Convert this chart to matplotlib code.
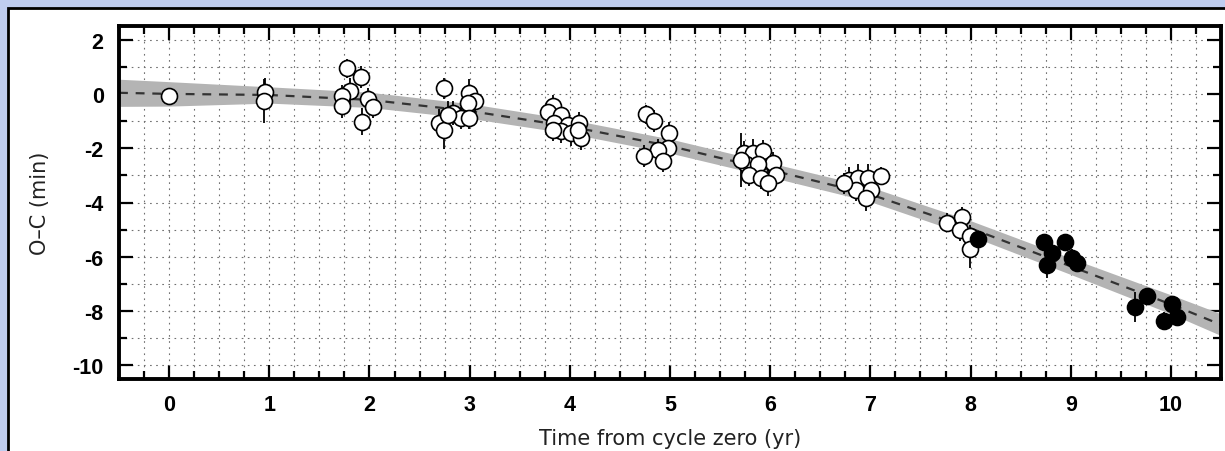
import numpy as np
import matplotlib.pyplot as plt
from matplotlib.patches import Rectangle
from matplotlib.ticker import MultipleLocator

plt.rcParams['font.family'] = ['Liberation Sans', 'DejaVu Sans']
plt.rcParams['axes.unicode_minus'] = False

# open circles (x in yr, O-C in min, error in min)
open_x = [0.0, 0.96, 0.95,
          1.78, 1.92, 1.81, 1.73, 1.73, 1.99, 2.04, 1.93,
          2.74, 2.99, 3.05, 2.98, 2.83, 2.91, 2.99, 2.69, 2.74, 2.78,
          3.83, 3.78, 3.91, 3.84, 3.98, 4.09, 3.91, 4.01, 4.11, 3.83, 4.08,
          4.76, 4.84, 4.99, 4.98, 4.88, 4.74, 4.93,
          5.74, 5.83, 5.93, 6.03, 5.76, 5.88, 6.06, 5.79, 5.91, 5.98, 5.71,
          6.79, 6.88, 6.98, 7.11, 6.86, 7.01, 6.96, 6.74,
          7.76, 7.91, 7.89, 7.99, 7.99]
open_y = [-0.07, 0.07, -0.26,
          0.95, 0.62, 0.10, -0.07, -0.45, -0.20, -0.48, -1.02,
          0.20, 0.03, -0.27, -0.35, -0.70, -0.88, -0.88, -1.07, -1.32, -0.77,
          -0.45, -0.65, -0.77, -1.07, -1.13, -1.07, -1.36, -1.43, -1.62, -1.32, -1.32,
          -0.75, -1.00, -1.43, -1.99, -2.05, -2.28, -2.46,
          -2.17, -2.17, -2.10, -2.54, -2.60, -2.60, -2.98, -2.98, -3.09, -3.27, -2.43,
          -3.16, -3.09, -3.09, -3.01, -3.53, -3.53, -3.82, -3.30,
          -4.74, -4.55, -5.00, -5.22, -5.73]
open_err = [0.15, 0.5, 0.8,
            0.35, 0.4, 0.5, 0.4, 0.45, 0.4, 0.4, 0.5,
            0.4, 0.5, 0.4, 0.4, 0.45, 0.4, 0.4, 0.5, 0.7, 0.5,
            0.4, 0.4, 0.4, 0.4, 0.45, 0.4, 0.45, 0.5, 0.45, 0.4, 0.4,
            0.35, 0.4, 0.4, 0.4, 0.4, 0.4, 0.4,
            0.45, 0.5, 0.4, 0.4, 0.5, 0.4, 0.4, 0.4, 0.4, 0.5, 1.0,
            0.45, 0.5, 0.5, 0.3, 0.4, 0.4, 0.5, 0.4,
            0.35, 0.4, 0.4, 0.4, 0.7]

# filled circles
fill_x = [8.07, 8.73, 8.94, 8.81, 8.76, 9.01, 9.06, 9.76, 9.64, 10.01, 10.06, 9.93]
fill_y = [-5.33, -5.45, -5.45, -5.85, -6.32, -6.03, -6.21, -7.45, -7.85, -7.75, -8.20, -8.35]
fill_err = [0.2, 0.25, 0.3, 0.3, 0.45, 0.3, 0.3, 0.3, 0.55, 0.3, 0.35, 0.3]

# fitted ephemeris and its uncertainty band
fit_x = [-0.5, 0, 1, 2, 3, 4, 5, 6, 7, 8, 9, 10, 10.5]
fit_y = [0.04, 0.0, -0.04, -0.22, -0.63, -1.2, -1.92, -2.8, -3.7, -4.95, -6.35, -7.75, -8.5]
fit_w = [0.5, 0.45, 0.3, 0.28, 0.27, 0.26, 0.26, 0.26, 0.27, 0.28, 0.3, 0.35, 0.4]

fig = plt.figure(figsize=(12.25, 4.52), dpi=100, facecolor='#bfcdf0')
fig.patches.append(Rectangle((8 / 1225, -0.2), 1.2, 1.2 - 9 / 452, transform=fig.transFigure,
                             facecolor='white', edgecolor='black', linewidth=2, zorder=-5))

ax = fig.add_axes([119 / 1225, 1 - 380 / 452, 1102 / 1225, 353 / 452])
ax.set_zorder(2)

fx = np.array(fit_x)
fy = np.array(fit_y)
fw = np.array(fit_w)
ax.fill_between(fx, fy - fw, fy + fw, color='#b4b4b4', linewidth=0, zorder=1)
ax.plot(fx, fy, color='#333333', linestyle=(0, (4, 3.5)), linewidth=1.6, zorder=2)

ax.errorbar(open_x, open_y, yerr=open_err, fmt='o', ms=11.5, mfc='white', mec='black',
            mew=1.2, ecolor='black', elinewidth=1.3, capsize=0, zorder=3)
ax.errorbar(fill_x, fill_y, yerr=fill_err, fmt='o', ms=11.5, mfc='black', mec='black',
            mew=1.2, ecolor='black', elinewidth=1.3, capsize=0, zorder=4)

ax.set_xlim(-0.5, 10.5)
ax.set_ylim(-10.5, 2.5)
ax.xaxis.set_major_locator(MultipleLocator(1))
ax.xaxis.set_minor_locator(MultipleLocator(0.25))
ax.yaxis.set_major_locator(MultipleLocator(2))
ax.yaxis.set_minor_locator(MultipleLocator(1))

ax.grid(which='both', color='#707070', linestyle=(0, (1.5, 4)), linewidth=0.8, zorder=0)
ax.set_axisbelow(True)

ax.tick_params(which='both', direction='in', top=True, right=True, width=1.6)
ax.tick_params(which='major', length=10, labelsize=15.5, pad=11)
ax.tick_params(which='minor', length=6)
for lab in ax.get_xticklabels() + ax.get_yticklabels():
    lab.set_fontweight('bold')
for sp in ax.spines.values():
    sp.set_linewidth(2.8)

ax.set_xlabel('Time from cycle zero (yr)', fontsize=15, family='DejaVu Sans',
              color='#222222', labelpad=9)
ax.set_ylabel('O\u2013C (min)', fontsize=15, family='DejaVu Sans',
              color='#222222', labelpad=16)

fig.savefig('out.png', dpi=100, facecolor=fig.get_facecolor())
